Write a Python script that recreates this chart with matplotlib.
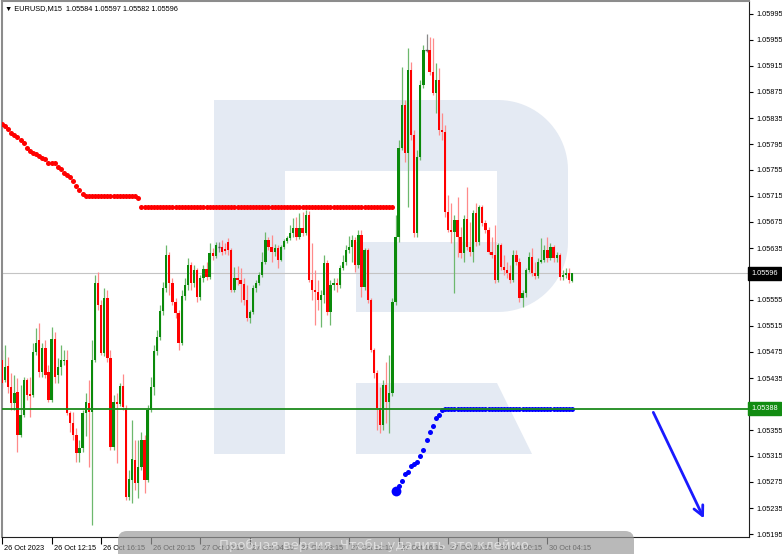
import numpy as np
import matplotlib
matplotlib.use("Agg")
import matplotlib.pyplot as plt
from matplotlib.patches import Polygon, Rectangle, FancyBboxPatch
from matplotlib.transforms import blended_transform_factory, ScaledTranslation

plt.rcParams['font.family'] = ['Liberation Sans', 'DejaVu Sans']

symbol = "EURUSD,M15"
header_values = ["1.05584", "1.05597", "1.05582", "1.05596"]

opens = [
    1.05463, 1.05432, 1.05453, 1.05421, 1.05397, 1.05413, 1.05347, 1.05378, 1.05432, 1.05410,
    1.05409, 1.05475, 1.05493, 1.05444, 1.05481, 1.05444, 1.05401, 1.05495, 1.05440, 1.05452,
    1.05461, 1.05463, 1.05381, 1.05366, 1.05347, 1.05320, 1.05327, 1.05381, 1.05397, 1.05383,
    1.05463, 1.05581, 1.05547, 1.05473, 1.05558, 1.05466, 1.05329, 1.05398, 1.05395, 1.05423,
    1.05389, 1.05252, 1.05278, 1.05309, 1.05273, 1.05298, 1.05340, 1.05278, 1.05386, 1.05421,
    1.05477, 1.05498, 1.05538, 1.05573, 1.05624, 1.05581, 1.05552, 1.05535, 1.05489, 1.05561,
    1.05578, 1.05609, 1.05581, 1.05601, 1.05560, 1.05589, 1.05603, 1.05590, 1.05627, 1.05623,
    1.05637, 1.05637, 1.05633, 1.05644, 1.05632, 1.05570, 1.05589, 1.05586, 1.05580, 1.05555,
    1.05527, 1.05537, 1.05573, 1.05581, 1.05593, 1.05613, 1.05647, 1.05637, 1.05629, 1.05635,
    1.05617, 1.05637, 1.05646, 1.05650, 1.05658, 1.05666, 1.05652, 1.05666, 1.05658, 1.05686,
    1.05586, 1.05570, 1.05567, 1.05555, 1.05563, 1.05612, 1.05537, 1.05578, 1.05581, 1.05578,
    1.05604, 1.05613, 1.05632, 1.05637, 1.05647, 1.05609, 1.05655, 1.05575, 1.05632, 1.05555,
    1.05478, 1.05443, 1.05389, 1.05363, 1.05424, 1.05398, 1.05412, 1.05552, 1.05652, 1.05789,
    1.05855, 1.05781, 1.05909, 1.05809, 1.05658, 1.05775, 1.05886, 1.05940, 1.05940, 1.05906,
    1.05873, 1.05893, 1.05817, 1.05813, 1.05690, 1.05663, 1.05660, 1.05678, 1.05652, 1.05627,
    1.05680, 1.05637, 1.05629, 1.05689, 1.05644, 1.05698, 1.05673, 1.05663, 1.05629, 1.05624,
    1.05586, 1.05640, 1.05606, 1.05601, 1.05597, 1.05586, 1.05624, 1.05613, 1.05558, 1.05566,
    1.05601, 1.05621, 1.05597, 1.05592, 1.05613, 1.05617, 1.05632, 1.05620, 1.05637, 1.05620,
    1.05624, 1.05590, 1.05593, 1.05597, 1.05584,
]
highs = [
    1.05478, 1.05486, 1.05467, 1.05443, 1.05440, 1.05435, 1.05424, 1.05437, 1.05435, 1.05437,
    1.05489, 1.05512, 1.05520, 1.05489, 1.05493, 1.05455, 1.05513, 1.05506, 1.05466, 1.05486,
    1.05478, 1.05478, 1.05384, 1.05383, 1.05358, 1.05340, 1.05386, 1.05412, 1.05432, 1.05493,
    1.05593, 1.05598, 1.05555, 1.05573, 1.05570, 1.05478, 1.05409, 1.05412, 1.05427, 1.05441,
    1.05393, 1.05293, 1.05370, 1.05340, 1.05340, 1.05352, 1.05347, 1.05393, 1.05437, 1.05486,
    1.05509, 1.05547, 1.05583, 1.05640, 1.05629, 1.05589, 1.05558, 1.05540, 1.05570, 1.05589,
    1.05620, 1.05613, 1.05609, 1.05604, 1.05593, 1.05609, 1.05613, 1.05643, 1.05635, 1.05644,
    1.05644, 1.05647, 1.05643, 1.05650, 1.05635, 1.05606, 1.05607, 1.05604, 1.05589, 1.05578,
    1.05540, 1.05578, 1.05586, 1.05598, 1.05629, 1.05660, 1.05652, 1.05655, 1.05641, 1.05640,
    1.05640, 1.05649, 1.05653, 1.05670, 1.05681, 1.05683, 1.05689, 1.05690, 1.05693, 1.05692,
    1.05643, 1.05601, 1.05586, 1.05570, 1.05624, 1.05617, 1.05586, 1.05589, 1.05589, 1.05609,
    1.05624, 1.05640, 1.05653, 1.05655, 1.05652, 1.05663, 1.05663, 1.05635, 1.05635, 1.05558,
    1.05481, 1.05447, 1.05421, 1.05432, 1.05460, 1.05470, 1.05558, 1.05686, 1.05801, 1.05913,
    1.05863, 1.05943, 1.05921, 1.05817, 1.05786, 1.05893, 1.05947, 1.05964, 1.05960, 1.05958,
    1.05920, 1.05912, 1.05843, 1.05824, 1.05717, 1.05704, 1.05686, 1.05713, 1.05667, 1.05686,
    1.05729, 1.05675, 1.05693, 1.05704, 1.05701, 1.05701, 1.05678, 1.05667, 1.05652, 1.05670,
    1.05643, 1.05643, 1.05624, 1.05613, 1.05609, 1.05632, 1.05632, 1.05620, 1.05570, 1.05604,
    1.05629, 1.05635, 1.05613, 1.05620, 1.05650, 1.05640, 1.05652, 1.05643, 1.05640, 1.05629,
    1.05627, 1.05601, 1.05604, 1.05604, 1.05597,
]
lows = [
    1.05420, 1.05429, 1.05412, 1.05386, 1.05386, 1.05321, 1.05344, 1.05375, 1.05401, 1.05375,
    1.05406, 1.05470, 1.05437, 1.05437, 1.05435, 1.05398, 1.05398, 1.05427, 1.05427, 1.05440,
    1.05455, 1.05378, 1.05352, 1.05340, 1.05306, 1.05306, 1.05321, 1.05346, 1.05298, 1.05209,
    1.05460, 1.05540, 1.05470, 1.05469, 1.05460, 1.05324, 1.05324, 1.05304, 1.05392, 1.05386,
    1.05247, 1.05247, 1.05243, 1.05263, 1.05250, 1.05293, 1.05258, 1.05275, 1.05383, 1.05409,
    1.05470, 1.05493, 1.05532, 1.05567, 1.05563, 1.05547, 1.05527, 1.05478, 1.05486, 1.05555,
    1.05570, 1.05570, 1.05575, 1.05552, 1.05555, 1.05583, 1.05586, 1.05587, 1.05617, 1.05620,
    1.05629, 1.05624, 1.05626, 1.05624, 1.05567, 1.05567, 1.05578, 1.05552, 1.05547, 1.05522,
    1.05520, 1.05533, 1.05567, 1.05578, 1.05590, 1.05610, 1.05632, 1.05613, 1.05623, 1.05604,
    1.05615, 1.05633, 1.05643, 1.05647, 1.05652, 1.05647, 1.05649, 1.05653, 1.05655, 1.05583,
    1.05555, 1.05517, 1.05540, 1.05513, 1.05550, 1.05532, 1.05517, 1.05570, 1.05567, 1.05573,
    1.05601, 1.05609, 1.05627, 1.05613, 1.05598, 1.05604, 1.05560, 1.05570, 1.05550, 1.05475,
    1.05435, 1.05355, 1.05350, 1.05355, 1.05366, 1.05350, 1.05407, 1.05547, 1.05644, 1.05786,
    1.05767, 1.05698, 1.05801, 1.05652, 1.05652, 1.05770, 1.05881, 1.05937, 1.05901, 1.05870,
    1.05843, 1.05809, 1.05801, 1.05683, 1.05660, 1.05643, 1.05566, 1.05621, 1.05620, 1.05613,
    1.05632, 1.05623, 1.05613, 1.05638, 1.05640, 1.05669, 1.05658, 1.05626, 1.05620, 1.05581,
    1.05583, 1.05601, 1.05593, 1.05589, 1.05581, 1.05583, 1.05609, 1.05552, 1.05544, 1.05560,
    1.05598, 1.05592, 1.05587, 1.05589, 1.05612, 1.05613, 1.05613, 1.05617, 1.05613, 1.05613,
    1.05586, 1.05586, 1.05589, 1.05581, 1.05582,
]
closes = [
    1.05427, 1.05452, 1.05421, 1.05397, 1.05412, 1.05347, 1.05378, 1.05432, 1.05409, 1.05407,
    1.05475, 1.05489, 1.05444, 1.05481, 1.05440, 1.05401, 1.05495, 1.05437, 1.05452, 1.05463,
    1.05463, 1.05381, 1.05366, 1.05347, 1.05320, 1.05327, 1.05381, 1.05398, 1.05383, 1.05463,
    1.05581, 1.05547, 1.05473, 1.05558, 1.05466, 1.05329, 1.05398, 1.05395, 1.05423, 1.05390,
    1.05252, 1.05280, 1.05310, 1.05273, 1.05298, 1.05340, 1.05278, 1.05386, 1.05421, 1.05477,
    1.05498, 1.05538, 1.05573, 1.05624, 1.05581, 1.05552, 1.05535, 1.05489, 1.05561, 1.05578,
    1.05609, 1.05581, 1.05601, 1.05560, 1.05589, 1.05603, 1.05590, 1.05627, 1.05623, 1.05640,
    1.05637, 1.05629, 1.05630, 1.05632, 1.05570, 1.05589, 1.05586, 1.05580, 1.05555, 1.05527,
    1.05537, 1.05573, 1.05581, 1.05593, 1.05613, 1.05647, 1.05637, 1.05629, 1.05635, 1.05617,
    1.05637, 1.05646, 1.05650, 1.05658, 1.05666, 1.05652, 1.05666, 1.05658, 1.05686, 1.05586,
    1.05570, 1.05567, 1.05555, 1.05563, 1.05612, 1.05537, 1.05578, 1.05581, 1.05578, 1.05604,
    1.05613, 1.05632, 1.05637, 1.05647, 1.05609, 1.05655, 1.05575, 1.05632, 1.05555, 1.05478,
    1.05443, 1.05389, 1.05363, 1.05424, 1.05398, 1.05412, 1.05552, 1.05652, 1.05789, 1.05855,
    1.05781, 1.05909, 1.05809, 1.05658, 1.05775, 1.05886, 1.05940, 1.05940, 1.05906, 1.05873,
    1.05893, 1.05817, 1.05813, 1.05690, 1.05663, 1.05660, 1.05678, 1.05652, 1.05627, 1.05680,
    1.05637, 1.05629, 1.05689, 1.05644, 1.05698, 1.05673, 1.05663, 1.05629, 1.05624, 1.05586,
    1.05640, 1.05606, 1.05601, 1.05597, 1.05586, 1.05624, 1.05613, 1.05558, 1.05566, 1.05601,
    1.05621, 1.05597, 1.05592, 1.05613, 1.05617, 1.05632, 1.05620, 1.05637, 1.05620, 1.05624,
    1.05590, 1.05593, 1.05597, 1.05586, 1.05596,
]

# trailing indicator above price (bars 0..126)
stop_red = [
    1.05826, 1.05823, 1.05818, 1.05812, 1.05809, 1.05806, 1.05801, 1.05797, 1.05789, 1.05784,
    1.05781, 1.05780, 1.05777, 1.05773, 1.05772, 1.05766, 1.05766, 1.05766, 1.05760, 1.05757,
    1.05750, 1.05747, 1.05744, 1.05738, 1.05730, 1.05724, 1.05718, 1.05715, 1.05715, 1.05715,
    1.05715, 1.05715, 1.05715, 1.05715, 1.05715, 1.05715, 1.05715, 1.05715, 1.05715, 1.05715,
    1.05715, 1.05715, 1.05715, 1.05715, 1.05712, 1.05698, 1.05698, 1.05698, 1.05698, 1.05698,
    1.05698, 1.05698, 1.05698, 1.05698, 1.05698, 1.05698, 1.05698, 1.05698, 1.05698, 1.05698,
    1.05698, 1.05698, 1.05698, 1.05698, 1.05698, 1.05698, 1.05698, 1.05698, 1.05698, 1.05698,
    1.05698, 1.05698, 1.05698, 1.05698, 1.05698, 1.05698, 1.05698, 1.05698, 1.05698, 1.05698,
    1.05698, 1.05698, 1.05698, 1.05698, 1.05698, 1.05698, 1.05698, 1.05698, 1.05698, 1.05698,
    1.05698, 1.05698, 1.05698, 1.05698, 1.05698, 1.05698, 1.05698, 1.05698, 1.05698, 1.05698,
    1.05698, 1.05698, 1.05698, 1.05698, 1.05698, 1.05698, 1.05698, 1.05698, 1.05698, 1.05698,
    1.05698, 1.05698, 1.05698, 1.05698, 1.05698, 1.05698, 1.05698, 1.05698, 1.05698, 1.05698,
    1.05698, 1.05698, 1.05698, 1.05698, 1.05698, 1.05698, 1.05698,
]
# trailing indicator below price (bars 127..184)
stop_blue = [
    1.05261, 1.05269, 1.05277, 1.05287, 1.05290, 1.05300, 1.05303, 1.05306, 1.05315, 1.05324,
    1.05340, 1.05352, 1.05361, 1.05373, 1.05378, 1.05386, 1.05387, 1.05387, 1.05387, 1.05387,
    1.05387, 1.05387, 1.05387, 1.05387, 1.05387, 1.05387, 1.05387, 1.05387, 1.05387, 1.05387,
    1.05387, 1.05387, 1.05387, 1.05387, 1.05387, 1.05387, 1.05387, 1.05387, 1.05387, 1.05387,
    1.05387, 1.05387, 1.05387, 1.05387, 1.05387, 1.05387, 1.05387, 1.05387, 1.05387, 1.05387,
    1.05387, 1.05387, 1.05387, 1.05387, 1.05387, 1.05387, 1.05387, 1.05387,
]

level_price = 1.05388
last_price = 1.05596

y_ticks = [1.05995, 1.05955, 1.05915, 1.05875, 1.05835, 1.05795, 1.05755, 1.05715,
           1.05675, 1.05635, 1.05595, 1.05555, 1.05515, 1.05475, 1.05435, 1.05395,
           1.05355, 1.05315, 1.05275, 1.05235, 1.05195]
x_tick_bars = [0, 16, 32, 48, 64, 80, 96, 112, 128, 144, 160, 176]
x_tick_labels = ["26 Oct 2023", "26 Oct 12:15", "26 Oct 16:15", "26 Oct 20:15",
                 "27 Oct 00:15", "27 Oct 04:15", "27 Oct 08:15", "27 Oct 12:15",
                 "27 Oct 16:15", "27 Oct 20:15", "30 Oct 00:15", "30 Oct 04:15"]

W, H = 782, 554
fig = plt.figure(figsize=(W / 100, H / 100), dpi=100)
fig.patch.set_facecolor("white")

# background layer in pixel coordinates (watermark logo)
bg = fig.add_axes([0, 0, 1, 1])
bg.set_xlim(0, W)
bg.set_ylim(H, 0)
bg.axis("off")
bg.set_zorder(0)

logo = "#e4eaf3"
bg.add_patch(Rectangle((214, 100), 71, 354, fc=logo, ec="none"))
r = 70
t = np.linspace(0, np.pi / 2, 24)
arc1 = np.column_stack([498 + r * np.sin(t), 170 - r * np.cos(t)])
arc2 = np.column_stack([498 + r * np.cos(t), 242 + r * np.sin(t)])
bowl = np.vstack([[[285, 100]], arc1, arc2,
                  [[356, 312], [356, 242], [497, 242], [497, 171], [285, 171]]])
bg.add_patch(Polygon(bowl, closed=True, fc=logo, ec="none"))
bg.add_patch(Polygon([[356, 383], [497, 383], [532, 454], [356, 454]], closed=True, fc=logo, ec="none"))

bg.text(5, 9, "\u25bc " + symbol + "  " + " ".join(header_values), fontsize=5.3,
        va="center", ha="left", color="black")

# main chart
ax = fig.add_axes([2 / W, 1 - 537 / H, 747 / W, 536 / H])
ax.set_zorder(1)
ax.patch.set_alpha(0)

o = np.array(opens); h = np.array(highs); l = np.array(lows); c = np.array(closes)
x = np.arange(len(o))
up = c > o
dn = c < o
dj = c == o

ax.vlines(x[up], l[up], h[up], color="#6db86d", lw=0.9, zorder=2)
ax.vlines(x[dn], l[dn], h[dn], color="#ff8a8a", lw=0.9, zorder=2)
ax.vlines(x[dj], l[dj], h[dj], color="#8a8a8a", lw=0.9, zorder=2)
ax.bar(x[up], c[up] - o[up], bottom=o[up], width=0.74, color="#0a8a0a", lw=0, zorder=3)
ax.bar(x[dn], o[dn] - c[dn], bottom=c[dn], width=0.74, color="#ff0000", lw=0, zorder=3)
ax.hlines(o[dj], x[dj] - 0.4, x[dj] + 0.4, color="#555555", lw=1, zorder=3)

ax.axhline(last_price, color="#c4c4c4", lw=0.8, zorder=1.5)

n_red = len(stop_red)
ax.scatter(x[:n_red], stop_red, s=13, color="#ff0000", lw=0, zorder=4)
ax.scatter(x[n_red:n_red + len(stop_blue)], stop_blue, s=13, color="#0000ff", lw=0, zorder=4)
ax.scatter([x[n_red]], [stop_blue[0]], s=50, color="#0000ff", lw=0, zorder=4)

ax.axhline(level_price, color="#1b8a1b", lw=1.3, zorder=5)

ax.annotate("", xy=(226.9, 1.05215), xytext=(209.8, 1.05386),
            arrowprops=dict(arrowstyle="->,head_length=0.7,head_width=0.35",
                            color="#1a1aff", lw=2), zorder=6)

ax.set_xlim((2 - 1.7) / 3.1, (749 - 1.7) / 3.1)
ax.set_ylim(1.05995 - 523 / 65000, 1.05995 + 13 / 65000)

ax.yaxis.tick_right()
ax.set_yticks(y_ticks)
ax.set_yticklabels([f"{v:.5f}" for v in y_ticks])
ax.tick_params(axis="y", direction="out", length=3, width=0.8, pad=2,
               labelsize=5.3, colors="black")
ax.set_xticks(x_tick_bars)
ax.set_xticklabels(x_tick_labels, ha="left")
ax.tick_params(axis="x", direction="out", length=5, width=0.8, pad=0.5,
               labelsize=5.3, colors="black")
off = ScaledTranslation(2 / 100, 0, fig.dpi_scale_trans)
for lab in ax.get_xticklabels():
    lab.set_transform(lab.get_transform() + off)

for s in ["left", "top"]:
    ax.spines[s].set_color("#8c8c8c")
    ax.spines[s].set_linewidth(1.5)
for s in ["right", "bottom"]:
    ax.spines[s].set_color("#202020")
    ax.spines[s].set_linewidth(0.8)

trans = blended_transform_factory(ax.transAxes, ax.transData)
ax.text(1.003, last_price, f"{last_price:.5f}", transform=trans, ha="left", va="center",
        fontsize=5.3, color="white", zorder=10, clip_on=False,
        bbox=dict(boxstyle="square,pad=0.4", fc="black", ec="black"))
ax.text(1.003, level_price, f"{level_price:.5f}", transform=trans, ha="left", va="center",
        fontsize=5.3, color="white", zorder=10, clip_on=False,
        bbox=dict(boxstyle="square,pad=0.4", fc="#128c12", ec="#128c12"))

# bottom overlay stamp
top = fig.add_axes([0, 0, 1, 1])
top.set_xlim(0, W)
top.set_ylim(H, 0)
top.axis("off")
top.set_zorder(20)
top.patch.set_alpha(0)
top.add_patch(FancyBboxPatch((118, 531), 516, 34, boxstyle="round,pad=0,rounding_size=9",
                             fc="#9c9c9c", ec="none", alpha=0.7))
top.text(376, 545, "Пробная версия. Чтобы удалить это клеймо.", fontsize=9.5,
         color="white", alpha=0.55, ha="center", va="center", family=["DejaVu Sans"])

fig.savefig("out.png", dpi=100)
